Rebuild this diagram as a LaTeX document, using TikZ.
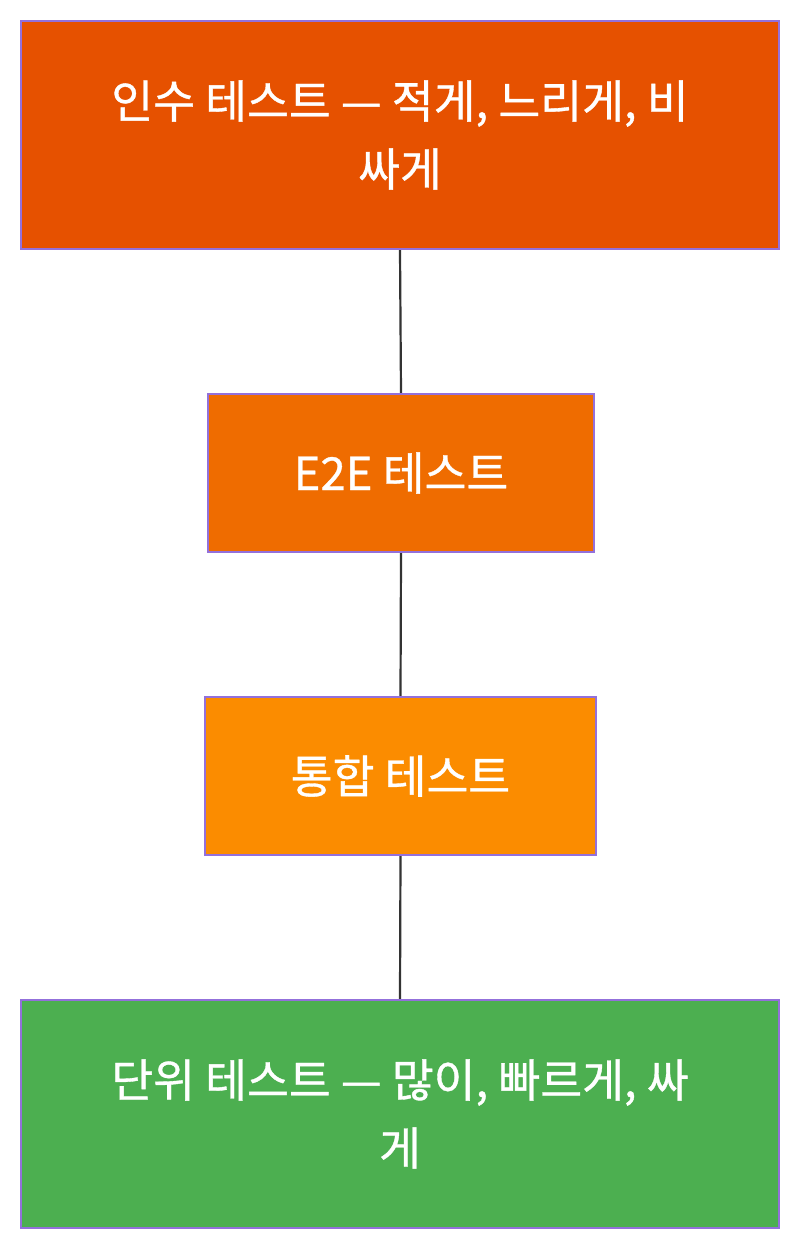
\documentclass[tikz,border=0pt]{standalone}
\usepackage{fontspec}
\newfontfamily\kr[FakeBold=0.8]{Noto Sans CJK KR}
\definecolor{c1}{HTML}{E65100}
\definecolor{c2}{HTML}{EF6C00}
\definecolor{c3}{HTML}{FB8C00}
\definecolor{c4}{HTML}{4CAF50}
\definecolor{bord}{HTML}{9370DB}
\definecolor{edge}{HTML}{333333}
\begin{document}
\begin{tikzpicture}[x=1pt,y=-1pt,
  box/.style={draw=bord,line width=2.4pt,rectangle,inner sep=0pt,text=white,align=center,
    font=\kr\fontsize{45.5}{68}\selectfont},
  link/.style={draw=edge,line width=2.2pt}]
\useasboundingbox (0,0) rectangle (802,1250);
\node[box,fill=c1,minimum width=758pt,minimum height=228pt] (a) at (400,135) {인수 테스트 — 적게, 느리게, 비\\싸게};
\node[box,fill=c2,minimum width=386pt,minimum height=158pt] (b) at (401,473) {E2E 테스트};
\node[box,fill=c3,minimum width=391pt,minimum height=158pt] (c) at (400.5,776) {통합 테스트};
\node[box,fill=c4,minimum width=758pt,minimum height=228pt] (d) at (400,1114) {단위 테스트 — 많이, 빠르게, 싸\\게};
\draw[link] (a.south) -- (b.north);
\draw[link] (b.south) -- (c.north);
\draw[link] (c.south) -- (d.north);
\end{tikzpicture}
\end{document}
